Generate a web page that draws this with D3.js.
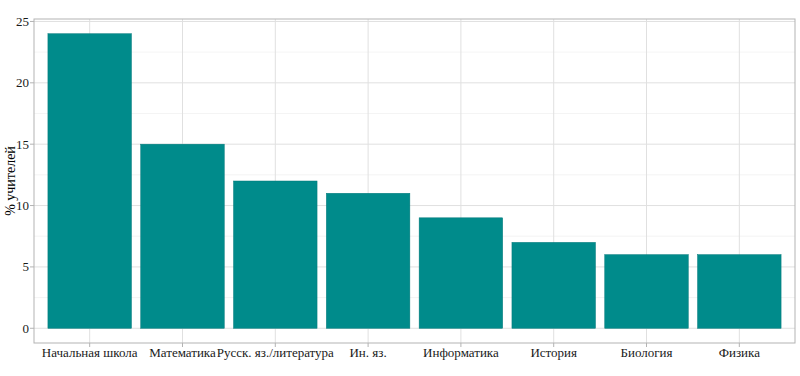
<!DOCTYPE html>
<html>
<head>
<meta charset="utf-8">
<script src="https://cdn.jsdelivr.net/npm/d3@7"></script>
<style>
  body { margin: 0; background: #fff; }
  svg text { font-family: "Liberation Serif", "Times New Roman", Tinos, serif; }
</style>
</head>
<body>
<div id="chart"></div>
<script>
var categories = ["Начальная школа", "Математика", "Русск. яз./литература", "Ин. яз.",
                  "Информатика", "История", "Биология", "Физика"];
var values = [24, 15, 12, 11, 9, 7, 6, 6];
var yTicks = [0, 5, 10, 15, 20, 25];
var yMinor = [2.5, 7.5, 12.5, 17.5, 22.5];

var width = 800, height = 376;
var mLeft = 34, mRight = 795, mTop = 19, mBottom = 343;

var svg = d3.select("#chart").append("svg")
  .attr("width", width)
  .attr("height", height);

// discrete x scale with ggplot-like 0.6 expansion
var n = categories.length;
var x = d3.scaleLinear().domain([0.4, n + 0.6]).range([mLeft, mRight]);
var y = d3.scaleLinear().domain([-1.2, 25.2]).range([mBottom, mTop]);

// minor grid
svg.selectAll(".minor").data(yMinor).enter().append("line")
  .attr("x1", mLeft).attr("x2", mRight)
  .attr("y1", d => y(d)).attr("y2", d => y(d))
  .attr("stroke", "#efefef").attr("stroke-width", 0.7);

// major grid
svg.selectAll(".hmajor").data(yTicks).enter().append("line")
  .attr("x1", mLeft).attr("x2", mRight)
  .attr("y1", d => y(d)).attr("y2", d => y(d))
  .attr("stroke", "#e0e0e0").attr("stroke-width", 1);

svg.selectAll(".vmajor").data(categories).enter().append("line")
  .attr("x1", (d, i) => x(i + 1)).attr("x2", (d, i) => x(i + 1))
  .attr("y1", mTop).attr("y2", mBottom)
  .attr("stroke", "#e0e0e0").attr("stroke-width", 1);

// bars
var bw = (x(2) - x(1)) * 0.9;
svg.selectAll(".bar").data(values).enter().append("rect")
  .attr("x", (d, i) => x(i + 1) - bw / 2)
  .attr("width", bw)
  .attr("y", d => y(d))
  .attr("height", d => y(0) - y(d))
  .attr("fill", "#008B8B")
  .attr("stroke", "#00797a")
  .attr("stroke-width", 0.5);

// panel border
svg.append("rect")
  .attr("x", mLeft).attr("y", mTop)
  .attr("width", mRight - mLeft).attr("height", mBottom - mTop)
  .attr("fill", "none").attr("stroke", "#b3b3b3").attr("stroke-width", 1);

// y ticks and labels
var yg = svg.append("g");
yg.selectAll("line").data(yTicks).enter().append("line")
  .attr("x1", mLeft - 4).attr("x2", mLeft)
  .attr("y1", d => y(d)).attr("y2", d => y(d))
  .attr("stroke", "#b3b3b3");
yg.selectAll("text").data(yTicks).enter().append("text")
  .attr("x", mLeft - 5).attr("y", d => y(d))
  .attr("dy", "0.35em")
  .attr("text-anchor", "end")
  .attr("font-size", 13)
  .attr("fill", "#1a1a1a")
  .text(d => d);

// x ticks and labels
var xg = svg.append("g");
xg.selectAll("line").data(categories).enter().append("line")
  .attr("x1", (d, i) => x(i + 1)).attr("x2", (d, i) => x(i + 1))
  .attr("y1", mBottom).attr("y2", mBottom + 4)
  .attr("stroke", "#b3b3b3");
xg.selectAll("text").data(categories).enter().append("text")
  .attr("x", (d, i) => x(i + 1)).attr("y", 357)
  .attr("text-anchor", "middle")
  .attr("font-size", 13)
  .attr("fill", "#1a1a1a")
  .text(d => d);

// y axis title
svg.append("text")
  .attr("transform", "translate(15," + ((mTop + mBottom) / 2) + ") rotate(-90)")
  .attr("text-anchor", "middle")
  .attr("font-size", 14)
  .attr("fill", "#000")
  .text("% учителей");
</script>
</body>
</html>
